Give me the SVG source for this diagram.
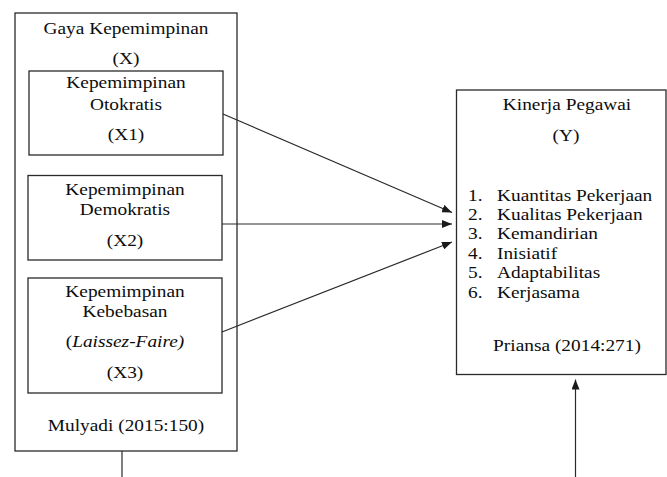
<svg xmlns="http://www.w3.org/2000/svg" width="667" height="477" viewBox="0 0 667 477">
<style>
.box{fill:none;stroke:#2a2a2a;stroke-width:1.3}
.t{font-family:"Liberation Serif","Times New Roman",serif;font-size:16px;fill:#0d0d0d}
.c{text-anchor:middle}
.conn{stroke:#2a2a2a;stroke-width:1.2;fill:none}
</style>
<defs>
<marker id="ah" viewBox="0 0 10 8" refX="10" refY="4" markerWidth="10" markerHeight="8" markerUnits="userSpaceOnUse" orient="auto">
<path d="M0,0 L10,4 L0,8 z" fill="#1a1a1a"/>
</marker>
</defs>
<rect width="667" height="477" fill="#ffffff"/>
<g id="gaya">
<rect class="box" x="15" y="13" width="222" height="438"/>
<text class="t c" transform="translate(126,34) scale(1.21 1)">Gaya Kepemimpinan</text>
<text class="t c" transform="translate(126,64) scale(1.21 1)">(X)</text>
<text class="t c" transform="translate(126,431) scale(1.21 1)">Mulyadi (2015:150)</text>
</g>
<g id="x1">
<rect class="box" x="29" y="71" width="194" height="84"/>
<text class="t c" transform="translate(126,87.5) scale(1.21 1)">Kepemimpinan</text>
<text class="t c" transform="translate(126,110) scale(1.21 1)">Otokratis</text>
<text class="t c" transform="translate(126,139.5) scale(1.21 1)">(X1)</text>
</g>
<g id="x2">
<rect class="box" x="28" y="175.5" width="194" height="84.5"/>
<text class="t c" transform="translate(125,195) scale(1.21 1)">Kepemimpinan</text>
<text class="t c" transform="translate(125,215) scale(1.21 1)">Demokratis</text>
<text class="t c" transform="translate(125,245.5) scale(1.21 1)">(X2)</text>
</g>
<g id="x3">
<rect class="box" x="28" y="278" width="194" height="115"/>
<text class="t c" transform="translate(125,297) scale(1.21 1)">Kepemimpinan</text>
<text class="t c" transform="translate(125,317) scale(1.21 1)">Kebebasan</text>
<text class="t c" transform="translate(125,347) scale(1.21 1)">(<tspan font-style="italic">Laissez-Faire)</tspan></text>
<text class="t c" transform="translate(125,378) scale(1.21 1)">(X3)</text>
</g>
<g id="y">
<rect class="box" x="456.5" y="90" width="209.5" height="284.5"/>
<text class="t c" transform="translate(567,109.5) scale(1.21 1)">Kinerja Pegawai</text>
<text class="t c" transform="translate(566,141) scale(1.21 1)">(Y)</text>
<text class="t" transform="translate(468,200.5) scale(1.21 1)">1.</text>
<text class="t" transform="translate(497,200.5) scale(1.21 1)">Kuantitas Pekerjaan</text>
<text class="t" transform="translate(468,220) scale(1.21 1)">2.</text>
<text class="t" transform="translate(497,220) scale(1.21 1)">Kualitas Pekerjaan</text>
<text class="t" transform="translate(468,239) scale(1.21 1)">3.</text>
<text class="t" transform="translate(497,239) scale(1.21 1)">Kemandirian</text>
<text class="t" transform="translate(468,258.5) scale(1.21 1)">4.</text>
<text class="t" transform="translate(497,258.5) scale(1.21 1)">Inisiatif</text>
<text class="t" transform="translate(468,278) scale(1.21 1)">5.</text>
<text class="t" transform="translate(497,278) scale(1.21 1)">Adaptabilitas</text>
<text class="t" transform="translate(468,297.5) scale(1.21 1)">6.</text>
<text class="t" transform="translate(497,297.5) scale(1.21 1)">Kerjasama</text>
<text class="t c" transform="translate(567,351) scale(1.21 1)">Priansa (2014:271)</text>
</g>
<g id="connectors">
<line class="conn" x1="223" y1="114" x2="452" y2="212.5" marker-end="url(#ah)"/>
<line class="conn" x1="222" y1="224" x2="452" y2="224" marker-end="url(#ah)"/>
<line class="conn" x1="222" y1="332" x2="452" y2="242" marker-end="url(#ah)"/>
<line class="conn" x1="122" y1="451" x2="122" y2="477"/>
<line class="conn" x1="575.5" y1="477" x2="575.5" y2="379.5" marker-end="url(#ah)"/>
</g>
</svg>
